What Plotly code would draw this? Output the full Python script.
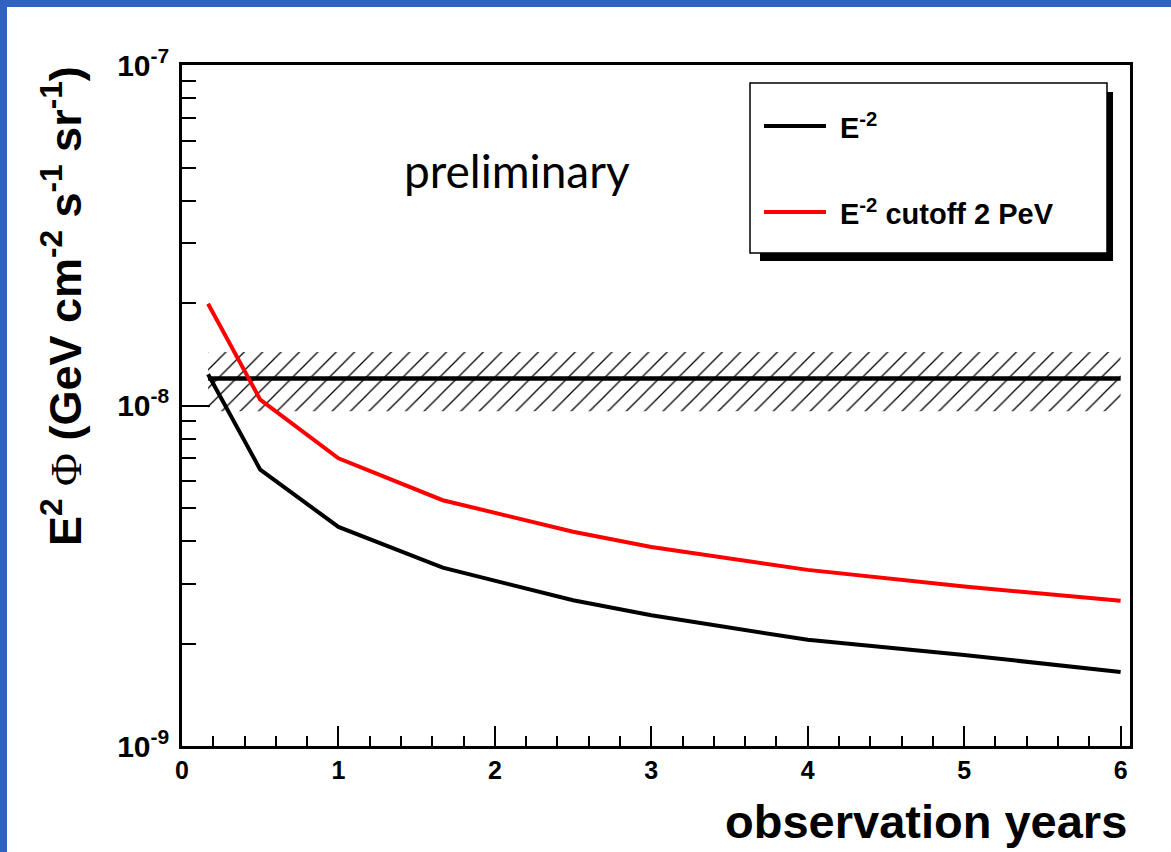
import plotly.graph_objects as go

# ---- data ----
years = [1/6, 0.5, 1.0, 5/3, 2.5, 3.0, 4.0, 5.0, 6.0]
flux_e2 = [1.235e-8, 6.48e-9, 4.40e-9, 3.34e-9, 2.68e-9, 2.42e-9, 2.05e-9, 1.85e-9, 1.65e-9]
flux_e2_cutoff = [1.99e-8, 1.04e-8, 7.0e-9, 5.27e-9, 4.26e-9, 3.84e-9, 3.29e-9, 2.94e-9, 2.67e-9]

measured_x = [1/6, 6.0]
measured_flux = [1.2e-8, 1.2e-8]
band_low = 9.62e-9
band_high = 1.437e-8

legend_labels = ["E<sup>-2</sup>", "E<sup>-2</sup> cutoff 2 PeV"]
legend_colors = ["black", "#ff0000"]

y_tickvals = [1e-9, 1e-8, 1e-7]
y_ticktext = ["10<sup>-9</sup>", "10<sup>-8</sup>", "10<sup>-7</sup>"]
y_minor = [m * 10.0**e for e in (-9, -8) for m in range(2, 10)]
x_tickvals = [0, 1, 2, 3, 4, 5, 6]
x_minor = [i * 0.2 for i in range(31) if i % 5 != 0]

W, H = 1171, 852
L, R, T, B = 182, 1130, 65, 746


def px(x):
    return (x - L) / (R - L)


def py(y):
    return (B - y) / (B - T)


fig = go.Figure()

# hatched band
fig.add_trace(go.Scatter(
    x=[measured_x[0], measured_x[1], measured_x[1], measured_x[0], measured_x[0]],
    y=[band_low, band_low, band_high, band_high, band_low],
    fill="toself", mode="none", fillcolor="rgba(0,0,0,0)",
    fillpattern=dict(shape="/", fgcolor="black", fgopacity=1, fillmode="replace",
                     bgcolor="rgba(0,0,0,0)", size=13, solidity=0.1),
    hoverinfo="skip", showlegend=False))

fig.add_trace(go.Scatter(x=measured_x, y=measured_flux, mode="lines",
                         line=dict(color="black", width=4.5), showlegend=False))
fig.add_trace(go.Scatter(x=years, y=flux_e2, mode="lines",
                         line=dict(color="black", width=4), showlegend=False))
fig.add_trace(go.Scatter(x=years, y=flux_e2_cutoff, mode="lines",
                         line=dict(color="#ff0000", width=4), showlegend=False))

shapes = []
# slide blue border (top and left)
blue = "#3161c1"
shapes.append(dict(type="rect", xref="paper", yref="paper",
                   x0=px(0), x1=px(W), y0=py(7), y1=py(0),
                   fillcolor=blue, line=dict(width=0), layer="below"))
shapes.append(dict(type="rect", xref="paper", yref="paper",
                   x0=px(0), x1=px(7), y0=py(H), y1=py(0),
                   fillcolor=blue, line=dict(width=0), layer="below"))
# legend shadow and box
shapes.append(dict(type="rect", xref="paper", yref="paper",
                   x0=px(760), x1=px(1113), y0=py(261), y1=py(92),
                   fillcolor="black", line=dict(width=0), layer="above"))
shapes.append(dict(type="rect", xref="paper", yref="paper",
                   x0=px(750), x1=px(1107), y0=py(253), y1=py(83),
                   fillcolor="white", line=dict(color="black", width=1.5), layer="above"))
annotations = []
for i, (lab, col) in enumerate(zip(legend_labels, legend_colors)):
    yy = 126 + i * 86
    shapes.append(dict(type="line", xref="paper", yref="paper",
                       x0=px(764), x1=px(826), y0=py(yy), y1=py(yy),
                       line=dict(color=col, width=4), layer="above"))
    annotations.append(dict(xref="paper", yref="paper", x=px(838), y=py(yy),
                            xanchor="left", yanchor="middle", showarrow=False,
                            text="<b>" + lab + "</b>",
                            font=dict(family="Liberation Sans", size=29, color="black")))

annotations.append(dict(xref="paper", yref="paper", x=px(517), y=py(170),
                        xanchor="center", yanchor="middle", showarrow=False,
                        text="preliminary",
                        font=dict(family="Lato", size=46, color="#000000")))

annotations.append(dict(xref="paper", yref="paper", x=px(1129), y=py(821),
                        xanchor="right", yanchor="middle", showarrow=False,
                        text="<b>observation years</b>",
                        font=dict(family="Liberation Sans", size=47, color="black")))

annotations.append(dict(xref="paper", yref="paper", x=px(62), y=py(64),
                        xanchor="center", yanchor="top", showarrow=False, textangle=-90,
                        text="<b>E<sup>2</sup> <span style=\"font-family:'Liberation Serif';font-weight:normal\">Φ</span> (GeV cm<sup>-2</sup> s<sup>-1</sup> sr<sup>-1</sup>)</b>",
                        font=dict(family="Liberation Sans", size=45, color="black")))

fig.update_layout(
    width=W, height=H,
    margin=dict(l=L, r=W - R, t=T, b=H - B, pad=0),
    paper_bgcolor="white", plot_bgcolor="white",
    shapes=shapes, annotations=annotations, showlegend=False,
    xaxis=dict(range=[0, 6.06], showgrid=False, zeroline=False,
               showline=True, linecolor="black", linewidth=2.5, mirror=True,
               tickmode="array", tickvals=x_tickvals,
               ticks="inside", ticklen=20, tickwidth=2, tickcolor="black",
               tickfont=dict(family="Liberation Sans", size=25, color="black", weight="bold"),
               minor=dict(tickmode="array", tickvals=x_minor, ticks="inside",
                          ticklen=10, tickwidth=2, tickcolor="black", showgrid=False)),
    yaxis=dict(type="log", range=[-9, -7], showgrid=False, zeroline=False,
               showline=True, linecolor="black", linewidth=2.5, mirror=True,
               tickmode="array", tickvals=y_tickvals, ticktext=y_ticktext,
               ticks="inside", ticklen=28, tickwidth=2, tickcolor="black",
               ticklabelstandoff=4,
               tickfont=dict(family="Liberation Sans", size=30, color="black", weight="bold"),
               minor=dict(tickmode="array", tickvals=y_minor, ticks="inside",
                          ticklen=14, tickwidth=2, tickcolor="black", showgrid=False)),
)

fig.write_html("out.html", config={"displayModeBar": False},
               post_script="document.body.style.margin='0';")
